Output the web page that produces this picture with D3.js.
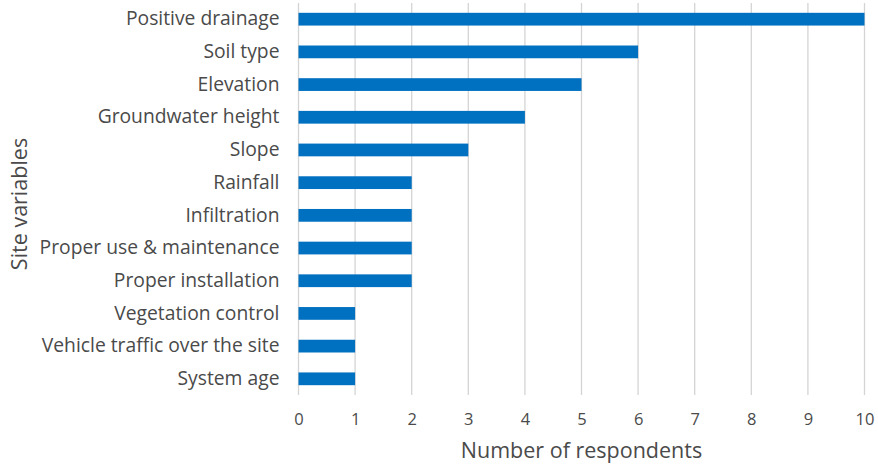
<!DOCTYPE html>
<html>
<head>
<meta charset="utf-8">
<script src="https://cdn.jsdelivr.net/npm/d3@7"></script>
<style>
  body { margin: 0; background: #fff; }
  text { font-family: "Open Sans", sans-serif; fill: #4a4a4a; }
</style>
</head>
<body>
<div id="chart"></div>
<script>
// Data
const categories = ['Positive drainage', 'Soil type', 'Elevation', 'Groundwater height', 'Slope',
	'Rainfall', 'Infiltration', 'Proper use & maintenance', 'Proper installation',
	'Vegetation control', 'Vehicle traffic over the site', 'System age']
const respondents = [10, 6, 5, 4, 3, 2, 2, 2, 2, 1, 1, 1]
const xTicks = [0, 1, 2, 3, 4, 5, 6, 7, 8, 9, 10]

// Dimensions
const chartWidth = 878
const chartHeight = 465
const plotLeft = 298.5
const plotRight = 864.5
const plotTop = 3
const plotBottom = 395

const svg = d3.select('#chart')
	.append('svg')
	.attr('width', chartWidth)
	.attr('height', chartHeight)

let scaleX = d3.scaleLinear()
	.domain([0, 10])
	.range([plotLeft, plotRight])

let scaleY = d3.scaleBand()
	.domain(categories)
	.range([plotTop, plotBottom])
	.paddingInner(0.61)
	.paddingOuter(0.3)

// Gridlines
svg.append('g')
	.selectAll('line')
	.data(xTicks)
	.enter()
	.append('line')
	.attr('x1', (d) => scaleX(d))
	.attr('x2', (d) => scaleX(d))
	.attr('y1', plotTop)
	.attr('y2', plotBottom)
	.style('stroke', '#d4d4d4')
	.style('stroke-width', 1.3)

// Bars
svg.append('g')
	.selectAll('rect')
	.data(categories)
	.enter()
	.append('rect')
	.attr('x', scaleX(0))
	.attr('y', (d) => scaleY(d))
	.attr('width', (d, i) => scaleX(respondents[i]) - scaleX(0))
	.attr('height', scaleY.bandwidth())
	.attr('fill', '#0070c0')

// X axis labels
let xAxis = d3.axisBottom(scaleX)
	.tickValues(xTicks)
	.tickSize(0)
	.tickPadding(0)
let gx = svg.append('g')
	.attr('transform', 'translate(0,' + 413 + ')')
	.call(xAxis)
gx.select('.domain').remove()
gx.selectAll('text')
	.style('font-size', '16.5px')
	.attr('dy', '0.71em')
	.style('fill', '#4a4a4a')

// Y axis labels
let yAxis = d3.axisLeft(scaleY)
	.tickSize(0)
	.tickPadding(19)
let gy = svg.append('g')
	.attr('transform', 'translate(' + plotLeft + ',0)')
	.call(yAxis)
gy.select('.domain').remove()
gy.selectAll('text')
	.style('font-size', '19.3px')
	.style('fill', '#4a4a4a')

// Axis titles
svg.append('text')
	.attr('x', scaleX(5))
	.attr('y', 458)
	.attr('text-anchor', 'middle')
	.style('font-size', '21.5px')
	.text('Number of respondents')

svg.append('text')
	.attr('transform', 'translate(27,' + 204 + ') rotate(-90)')
	.attr('text-anchor', 'middle')
	.style('font-size', '21.5px')
	.text('Site variables')
</script>
</body>
</html>
